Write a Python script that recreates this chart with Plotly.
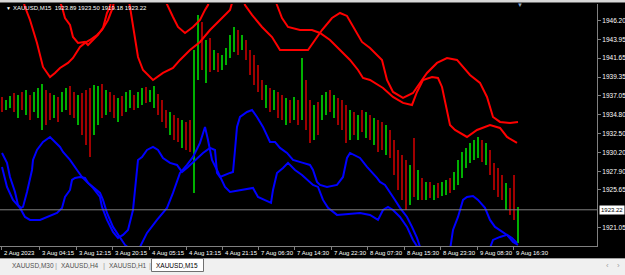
import plotly.graph_objects as go

# ---------------- data ----------------
# candles (bar index ~ pixel column of the M15 chart), highs/lows and direction
bar_x = list(range(2, 519, 4))
highs = [1936.93,1936.57,1937.06,1937.42,1937.18,1937.54,1937.79,1937.18,1937.54,1938.03,
         1938.51,1937.79,1937.42,1937.18,1936.93,1937.54,1938.03,1938.27,1937.54,1937.18,
         1937.42,1937.79,1938.03,1938.39,1938.27,1938.51,1937.79,1937.54,1937.18,1936.81,
         1937.06,1937.54,1937.79,1937.18,1937.54,1938.03,1938.15,1937.79,1938.27,1937.30,
         1936.57,1935.35,1935.11,1934.75,1934.38,1934.14,1933.90,1934.14,1942.64,1946.90,
         1946.05,1943.86,1944.10,1942.64,1942.28,1942.04,1942.89,1944.47,1945.44,1945.07,
         1944.47,1943.86,1942.64,1942.04,1940.82,1939.00,1938.39,1938.03,1937.79,1937.54,
         1937.18,1936.81,1936.57,1936.93,1936.57,1941.67,1939.00,1936.57,1935.96,1936.33,
         1937.18,1937.54,1937.79,1937.18,1936.81,1936.57,1935.96,1935.35,1935.11,1934.75,
         1935.35,1935.11,1934.75,1934.38,1934.14,1933.90,1933.53,1932.92,1931.71,1930.49,
         1929.89,1929.28,1928.67,1931.95,1928.06,1927.09,1926.61,1926.61,1926.24,1926.49,
         1926.61,1926.85,1927.09,1927.82,1929.28,1930.25,1930.74,1931.35,1931.71,1932.07,
         1931.71,1931.35,1930.49,1928.92,1928.31,1927.46,1926.49,1925.88,1927.46,1923.50]
lows = [1935.11,1935.35,1935.60,1935.11,1934.38,1935.35,1934.75,1934.14,1935.11,1934.38,
        1932.92,1933.53,1934.14,1934.38,1933.90,1935.11,1935.35,1934.75,1934.38,1933.53,
        1932.32,1931.10,1929.64,1932.32,1933.53,1934.38,1934.75,1935.11,1934.38,1933.90,
        1934.63,1935.11,1935.60,1935.35,1935.60,1935.96,1936.21,1936.33,1935.60,1934.75,
        1933.90,1933.17,1932.32,1931.71,1931.47,1930.74,1930.49,1930.25,1925.27,1939.00,
        1940.21,1938.64,1939.97,1940.21,1939.97,1940.21,1940.82,1941.67,1942.40,1942.04,
        1942.64,1941.43,1939.61,1938.39,1937.54,1936.57,1935.60,1935.11,1935.35,1934.38,
        1934.14,1933.53,1933.78,1934.14,1933.53,1934.14,1932.92,1931.35,1931.71,1932.32,
        1934.14,1934.75,1935.11,1934.38,1933.53,1932.92,1931.35,1931.71,1932.32,1931.71,
        1932.68,1931.95,1931.71,1931.10,1930.25,1930.49,1929.89,1929.52,1927.46,1925.63,
        1924.42,1923.20,1923.81,1924.78,1924.42,1924.42,1924.42,1924.66,1924.42,1924.66,
        1924.91,1925.03,1925.27,1925.63,1926.24,1927.09,1928.31,1928.92,1929.28,1929.52,
        1929.04,1928.67,1927.46,1925.63,1924.78,1924.42,1923.20,1922.60,1921.99,1919.18]
direction = ("RGGRGRGRGGGRRGRGGRRGRRRGGRGRRGRGGRGGRGGRRRGRRGRRG"
             "GRGRGRGGGGRGRRRRRGRGRRGRGRGRRGRGGRGRRRGRGRGRGRRGRRRRRGRGRGRGRGGRGGGGGGGRGRRRRGRRGRG")

# indicator lines (bar index, price)
red_slow_x = [0, 55, 62, 65, 70, 73, 78, 85, 88, 93, 98, 103, 107, 110, 113, 160, 168, 173, 178, 185,
              193, 200, 205, 208, 212, 240, 245, 252, 262, 272, 280, 295, 308, 315, 322, 332, 340, 347,
              355, 362, 370, 382, 387, 393, 403, 413, 422, 427, 437, 447, 457, 463, 470, 480, 487, 493,
              500, 510, 518]
red_slow_y = [1950.0, 1950.0, 1947.87, 1946.53, 1945.68, 1944.22, 1943.50, 1943.62, 1943.25, 1943.86,
              1944.47, 1945.32, 1947.14, 1947.87, 1950.0, 1950.0, 1947.87, 1946.65, 1945.44, 1944.71,
              1945.44, 1946.29, 1947.51, 1948.11, 1950.0, 1950.0, 1948.11, 1946.90, 1945.44, 1944.22,
              1942.64, 1942.64, 1942.64, 1943.86, 1945.07, 1946.53, 1947.14, 1946.78, 1945.07, 1943.62,
              1942.89, 1941.43, 1939.00, 1937.54, 1936.81, 1937.42, 1939.00, 1939.85, 1941.07, 1941.67,
              1941.43, 1940.58, 1939.61, 1938.64, 1936.93, 1934.50, 1933.90, 1933.78, 1933.90]
red_fast_x = [0, 20, 25, 30, 37, 43, 50, 55, 60, 68, 73, 80, 85, 90, 97, 102, 108, 113, 116, 127, 130,
              133, 138, 143, 153, 163, 173, 180, 187, 190, 200, 210, 220, 230, 236, 272, 277, 282, 288,
              300, 312, 320, 330, 340, 350, 358, 363, 370, 383, 393, 403, 412, 417, 423, 432, 438, 442,
              450, 455, 467, 477, 490, 500, 507, 517]
red_fast_y = [1950.0, 1950.0, 1947.87, 1946.29, 1943.50, 1940.58, 1939.36, 1939.85, 1940.46, 1941.07,
              1941.67, 1943.01, 1943.50, 1943.86, 1944.47, 1945.07, 1946.29, 1947.87, 1950.0, 1950.0,
              1947.87, 1945.44, 1941.79, 1940.21, 1939.00, 1939.85, 1940.46, 1941.43, 1942.28, 1942.64,
              1943.62, 1945.07, 1946.29, 1947.51, 1950.0, 1950.0, 1948.11, 1946.53, 1945.44, 1945.07,
              1945.07, 1944.71, 1943.86, 1942.64, 1941.43, 1940.21, 1939.24, 1939.00, 1938.03, 1936.93,
              1936.21, 1935.96, 1937.54, 1939.00, 1939.36, 1939.24, 1938.15, 1933.53, 1932.92, 1932.07,
              1932.92, 1933.53, 1933.17, 1932.07, 1931.35]
blue_a_x = [2, 7, 10, 15, 18, 21, 23, 27, 32, 33, 37, 43, 50, 55, 60, 63, 70, 77, 82, 87, 93, 100, 103,
            107, 113, 120, 125, 130, 137, 140, 147, 157, 167, 173, 180, 187, 193, 200, 205, 208, 212,
            217, 225, 230, 240, 253, 258, 265, 271, 273, 277, 283, 288, 295, 302, 313, 318, 323, 328,
            337, 347, 360, 370, 378, 383, 388, 393, 400, 407, 413, 418, 422, 485, 490, 493, 500, 507,
            512, 517]
blue_a_y = [1930.13, 1928.92, 1927.21, 1925.39, 1923.81, 1923.45, 1923.57, 1925.39, 1928.06, 1929.28,
            1930.49, 1931.47, 1932.07, 1931.47, 1930.86, 1930.25, 1929.28, 1928.06, 1927.21, 1926.61,
            1926.00, 1925.27, 1924.42, 1922.84, 1921.14, 1919.80, 1918.95, 1918.47, 1918.47, 1918.71,
            1920.41, 1921.99, 1923.45, 1925.27, 1927.70, 1928.67, 1929.64, 1931.35, 1933.29, 1931.71,
            1929.28, 1928.06, 1926.00, 1925.39, 1925.63, 1925.88, 1924.78, 1924.42, 1924.06, 1925.63,
            1927.70, 1928.31, 1928.92, 1928.06, 1927.46, 1926.24, 1926.00, 1924.42, 1923.45, 1922.60,
            1922.72, 1922.84, 1922.60, 1921.99, 1923.20, 1923.57, 1923.20, 1922.35, 1921.14, 1919.56,
            1918.59, 1917.74, 1917.74, 1918.59, 1919.56, 1919.92, 1920.17, 1919.80, 1919.20]
blue_b_x = [2, 7, 13, 20, 25, 30, 40, 47, 57, 62, 65, 70, 72, 75, 80, 85, 88, 93, 100, 102, 107, 113,
            118, 123, 128, 133, 138, 142, 147, 153, 158, 163, 170, 177, 182, 188, 195, 203, 210, 215,
            217, 220, 230, 233, 235, 237, 240, 247, 252, 257, 263, 270, 275, 280, 287, 293, 303, 310,
            313, 317, 320, 327, 337, 343, 347, 350, 360, 367, 377, 380, 385, 390, 395, 400, 407, 412,
            417, 420, 424, 446, 450, 453, 458, 463, 467, 473, 478, 485, 490, 495, 500, 507, 513, 518]
blue_b_y = [1928.43, 1926.00, 1924.42, 1923.45, 1922.35, 1921.99, 1921.99, 1922.35, 1922.84, 1923.45,
            1924.78, 1925.63, 1926.85, 1927.09, 1927.21, 1927.09, 1926.49, 1925.88, 1924.78, 1923.57,
            1921.99, 1920.53, 1919.80, 1920.17, 1920.77, 1923.20, 1929.28, 1929.64, 1930.49, 1930.86,
            1930.49, 1929.52, 1928.92, 1928.67, 1927.82, 1928.43, 1929.28, 1930.13, 1930.74, 1930.49,
            1927.70, 1927.21, 1927.70, 1927.82, 1930.49, 1933.29, 1934.50, 1935.11, 1935.35, 1934.50,
            1933.29, 1931.47, 1931.47, 1930.74, 1930.13, 1929.28, 1928.92, 1928.67, 1928.06, 1926.61,
            1926.24, 1926.00, 1926.24, 1927.21, 1929.52, 1930.13, 1929.52, 1928.43, 1927.09, 1926.61,
            1926.24, 1925.39, 1924.42, 1923.45, 1922.35, 1921.14, 1919.80, 1918.71, 1917.62, 1917.62,
            1918.34, 1920.77, 1922.35, 1924.42, 1924.78, 1924.90, 1924.42, 1923.45, 1921.99, 1921.14,
            1920.77, 1920.17, 1919.32, 1918.95]

price_ticks = [1946.20, 1943.95, 1941.65, 1939.35, 1937.05, 1934.80, 1932.50, 1930.20, 1927.90,
               1925.65, 1921.05, 1918.75]
time_tick_x = [1, 39, 76, 112, 149, 186, 222, 258, 294, 331, 367, 404, 440, 477, 513]
time_labels = ["2 Aug 2023", "3 Aug 04:15", "3 Aug 12:15", "3 Aug 20:15", "4 Aug 05:15",
               "4 Aug 13:15", "4 Aug 21:15", "7 Aug 06:30", "7 Aug 14:30", "7 Aug 22:30",
               "8 Aug 07:30", "8 Aug 15:30", "8 Aug 23:30", "9 Aug 08:30", "9 Aug 16:30"]
last_price = 1923.22
header = "XAUUSD,M15  1923.89 1923.50 1919.18 1923.22"
tabs = ["XAUUSD,M30", "XAUUSD,H4", "XAUUSD,H1", "XAUUSD,M15"]

# ---------------- figure ----------------
W, H = 625, 275
L, R, T, B = 0, 28, 4, 29
PW, PH = W - L - R, H - T - B


def px(x):  # screen x -> paper
    return (x - L) / PW


def py(y):  # screen y -> paper
    return (H - B - y) / PH


UP, DOWN = "#00b000", "#a00000"
colors = [UP if c == "G" else DOWN for c in direction[:len(bar_x)]]
font = "Liberation Sans, Arial, sans-serif"
FS = 6

fig = go.Figure()
fig.add_trace(go.Bar(x=bar_x, y=[h - l for h, l in zip(highs, lows)], base=lows,
                     width=1.8, marker=dict(color=colors, line=dict(width=0)),
                     hoverinfo="skip"))
for xs, ys, col in [(red_slow_x, red_slow_y, "#ff0000"), (red_fast_x, red_fast_y, "#ff0000"),
                    (blue_a_x, blue_a_y, "#0000ff"), (blue_b_x, blue_b_y, "#0000ff")]:
    fig.add_trace(go.Scatter(x=xs, y=ys, mode="lines", line=dict(color=col, width=2),
                             hoverinfo="skip"))

shapes = [
    dict(type="line", xref="paper", yref="y", x0=0, x1=1, y0=last_price, y1=last_price,
         line=dict(color="#808080", width=1)),
    dict(type="rect", xref="paper", yref="paper", x0=px(0), x1=px(W), y0=py(2.5), y1=py(0),
         fillcolor="#d8d8d8", line=dict(width=0), layer="above"),
    dict(type="rect", xref="paper", yref="paper", x0=px(0), x1=px(W), y0=py(H), y1=py(258.5),
         fillcolor="#f0f0f0", line=dict(width=0)),
    dict(type="line", xref="paper", yref="paper", x0=px(0), x1=px(W), y0=py(258.5), y1=py(258.5),
         line=dict(color="#a0a0a0", width=1)),
    dict(type="rect", xref="paper", yref="paper", x0=px(151.5), x1=px(203.5), y0=py(271.5),
         y1=py(258.5), fillcolor="#ffffff", line=dict(color="#707070", width=1)),
]

ann = []
for xv, lab in zip(time_tick_x, time_labels):
    ann.append(dict(x=xv + 1, y=py(253), xref="x", yref="paper", text=lab, showarrow=False,
                    xanchor="left", yanchor="middle", font=dict(color="#ffffff", size=FS, family=font)))
ann.append(dict(x=px(599), y=last_price, xref="paper", yref="y", text=f"{last_price:.2f}",
                showarrow=False, xanchor="left", yanchor="middle", bgcolor="#ffffff",
                font=dict(color="#000000", size=FS, family=font), borderpad=1))
ann.append(dict(x=px(4), y=py(8.5), xref="paper", yref="paper", text="▼", showarrow=False,
                xanchor="left", yanchor="middle", font=dict(color="#ffffff", size=5, family=font)))
ann.append(dict(x=px(11), y=py(8.5), xref="paper", yref="paper", text=header, showarrow=False,
                xanchor="left", yanchor="middle", font=dict(color="#ffffff", size=FS, family=font)))
ann.append(dict(x=520, y=py(5), xref="x", yref="paper", text="▼", showarrow=False,
                xanchor="center", yanchor="middle", font=dict(color="#8aa6c8", size=6, family=font)))
tab_centers = [33, 80, 128, 177]
for i, (cx, t) in enumerate(zip(tab_centers, tabs)):
    ann.append(dict(x=px(cx), y=py(265), xref="paper", yref="paper", text=t, showarrow=False,
                    xanchor="center", yanchor="middle",
                    font=dict(color="#000000" if i == 3 else "#505050", size=6.5, family=font)))
for sx in [56, 104, 150]:
    ann.append(dict(x=px(sx), y=py(265), xref="paper", yref="paper", text="|", showarrow=False,
                    xanchor="center", yanchor="middle", font=dict(color="#a0a0a0", size=8, family=font)))
for sx, t in [(607, "‹"), (618, "›")]:
    ann.append(dict(x=px(sx), y=py(265), xref="paper", yref="paper", text=t, showarrow=False,
                    xanchor="center", yanchor="middle", font=dict(color="#a0a0a0", size=8, family=font)))

fig.update_layout(
    width=W, height=H, margin=dict(l=L, r=R, t=T, b=B, pad=0),
    paper_bgcolor="#000000", plot_bgcolor="#000000", showlegend=False, bargap=0,
    xaxis=dict(range=[0, PW], showgrid=False, zeroline=False, showline=True, linecolor="#808080",
               ticks="outside", ticklen=3, tickcolor="#808080", tickvals=time_tick_x,
               showticklabels=False, fixedrange=True),
    yaxis=dict(range=[1918.82, 1948.23], side="right", showgrid=False, zeroline=False,
               showline=True, linecolor="#808080", ticks="outside", ticklen=3, tickcolor="#808080",
               tickvals=price_ticks, ticktext=[f"{v:.2f}" for v in price_ticks],
               tickfont=dict(color="#ffffff", size=FS + 0.5, family=font), fixedrange=True),
    shapes=shapes, annotations=ann,
)
fig.write_html("out.html")
